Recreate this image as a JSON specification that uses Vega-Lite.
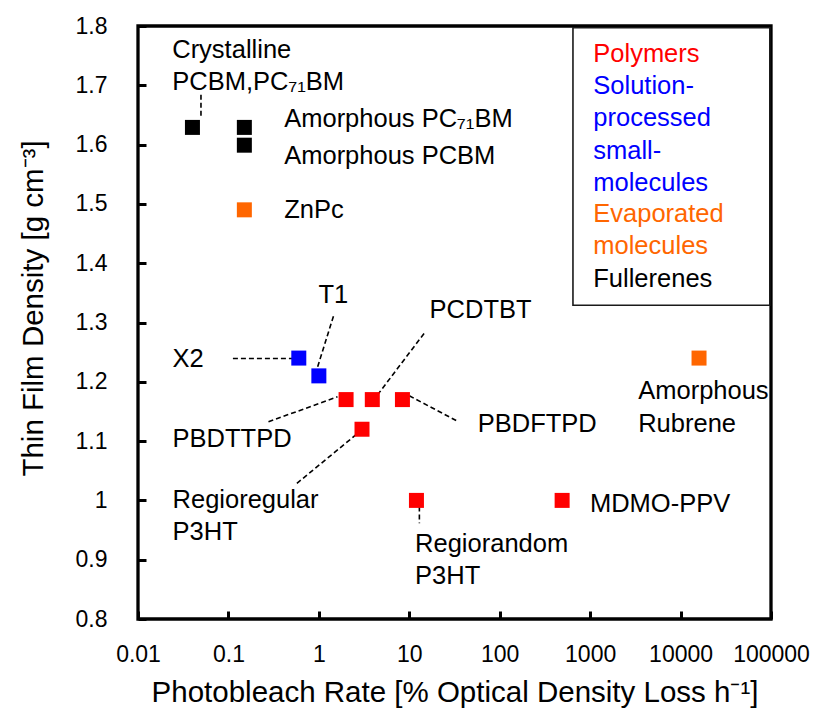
{
  "$schema": "https://vega.github.io/schema/vega-lite/v6.json",
  "width": 633,
  "height": 593,
  "autosize": {"type": "none"},
  "padding": {"left": 138, "top": 26, "right": 44, "bottom": 89},
  "background": "white",
  "config": {
    "view": {"stroke": "black", "strokeWidth": 3.3},
    "font": "Liberation Sans",
    "text": {"font": "Liberation Sans"}
  },
  "datasets": {
    "points": [
      {"name": "Crystalline PCBM,PC71BM", "x": 0.04, "y": 1.629, "cat": "Fullerenes"},
      {"name": "Amorphous PC71BM", "x": 0.15, "y": 1.629, "cat": "Fullerenes"},
      {"name": "Amorphous PCBM", "x": 0.15, "y": 1.599, "cat": "Fullerenes"},
      {"name": "ZnPc", "x": 0.15, "y": 1.49, "cat": "Evaporated molecules"},
      {"name": "X2", "x": 0.6, "y": 1.24, "cat": "Solution-processed small-molecules"},
      {"name": "T1", "x": 1, "y": 1.21, "cat": "Solution-processed small-molecules"},
      {"name": "PBDTTPD", "x": 2, "y": 1.17, "cat": "Polymers"},
      {"name": "PCDTBT", "x": 3.9, "y": 1.17, "cat": "Polymers"},
      {"name": "PBDFTPD", "x": 8.4, "y": 1.17, "cat": "Polymers"},
      {"name": "Regioregular P3HT", "x": 3, "y": 1.12, "cat": "Polymers"},
      {"name": "Regiorandom P3HT", "x": 12, "y": 1.0, "cat": "Polymers"},
      {"name": "MDMO-PPV", "x": 490, "y": 1.0, "cat": "Polymers"},
      {"name": "Amorphous Rubrene", "x": 16000, "y": 1.24, "cat": "Evaporated molecules"}
    ],
    "labels": [
      {"text": "Crystalline\nPCBM,PC₇₁BM", "x": 0.0239, "y": 1.7467},
      {"text": "Amorphous PC₇₁BM", "x": 0.4137, "y": 1.6293},
      {"text": "Amorphous PCBM", "x": 0.4137, "y": 1.5681},
      {"text": "ZnPc", "x": 0.4137, "y": 1.4754},
      {"text": "T1", "x": 0.99, "y": 1.3321},
      {"text": "X2", "x": 0.0241, "y": 1.2242},
      {"text": "PCDTBT", "x": 16.76, "y": 1.307},
      {"text": "PBDTTPD", "x": 0.0241, "y": 1.0904},
      {"text": "Regioregular\nP3HT", "x": 0.0241, "y": 0.9876},
      {"text": "Regiorandom\nP3HT", "x": 11.59, "y": 0.9134},
      {"text": "PBDFTPD", "x": 57.1, "y": 1.1157},
      {"text": "MDMO-PPV", "x": 995, "y": 0.9809},
      {"text": "Amorphous\nRubrene", "x": 3400, "y": 1.1703}
    ],
    "leaders": [
      {"x": 0.0497, "y": 1.684, "x2": 0.0497, "y2": 1.644},
      {"x": 1.45, "y": 1.3107, "x2": 0.95, "y2": 1.2209},
      {"x": 0.1121, "y": 1.2394, "x2": 0.595, "y2": 1.2394},
      {"x": 14.57, "y": 1.2815, "x2": 4.44, "y2": 1.1776},
      {"x": 0.2773, "y": 1.1326, "x2": 1.606, "y2": 1.1747},
      {"x": 0.5715, "y": 1.0287, "x2": 3.39, "y2": 1.1258},
      {"x": 12.93, "y": 1.0034, "x2": 12.93, "y2": 0.9613},
      {"x": 10.0, "y": 1.1764, "x2": 34.0, "y2": 1.1337}
    ],
    "legend": [
      {"cat": "Polymers", "text": "Polymers", "x": 1083, "y": 1.7393},
      {"cat": "Solution-processed small-molecules", "text": "Solution-\nprocessed\nsmall-\nmolecules", "x": 1083, "y": 1.6849},
      {"cat": "Evaporated molecules", "text": "Evaporated\nmolecules", "x": 1083, "y": 1.4697},
      {"cat": "Fullerenes", "text": "Fullerenes", "x": 1083, "y": 1.3601}
    ],
    "box": [
      {"x": 645.6, "x2": 97000, "y": 1.797, "y2": 1.329}
    ]
  },
  "encoding": {
    "x": {
      "field": "x",
      "type": "quantitative",
      "scale": {"type": "log", "domain": [0.01, 100000], "nice": false},
      "axis": {
        "values": [0.01, 0.1, 1, 10, 100, 1000, 10000, 100000],
        "format": "~g",
        "title": "Photobleach Rate [% Optical Density Loss h⁻¹]",
        "grid": false,
        "domain": false,
        "offset": -8,
        "ticks": true,
        "tickOpacity": 1,
        "tickColor": "#000000",
        "tickWidth": 3,
        "tickSize": 8,
        "zindex": 2,
        "labelFont": "Liberation Sans",
        "labelFontSize": 23,
        "labelColor": "black",
        "labelPadding": 24.5,
        "labelFlush": false,
        "labelOverlap": false,
        "labelBound": false,
        "titleFont": "Liberation Sans",
        "titleFontSize": 29.5,
        "titleFontWeight": "normal",
        "titleColor": "black",
        "titlePadding": 12
      }
    },
    "y": {
      "field": "y",
      "type": "quantitative",
      "scale": {"domain": [0.8, 1.8], "nice": false, "zero": false},
      "axis": {
        "values": [0.8, 0.9, 1, 1.1, 1.2, 1.3, 1.4, 1.5, 1.6, 1.7, 1.8],
        "format": "~g",
        "title": "Thin Film Density [g cm⁻³]",
        "grid": false,
        "domain": false,
        "offset": -8,
        "ticks": true,
        "tickOpacity": 1,
        "tickColor": "#000000",
        "tickWidth": 3,
        "tickSize": 8,
        "zindex": 2,
        "labelFont": "Liberation Sans",
        "labelFontSize": 23,
        "labelColor": "black",
        "labelPadding": 31,
        "labelFlush": false,
        "labelOverlap": false,
        "labelBound": false,
        "titleFont": "Liberation Sans",
        "titleFontSize": 29.5,
        "titleFontWeight": "normal",
        "titleColor": "black",
        "titlePadding": 27,
        "titleY": 282
      }
    }
  },
  "layer": [
    {
      "data": {"name": "box"},
      "mark": {"type": "rect", "fill": "transparent", "stroke": "#1a1a1a", "strokeWidth": 1.6},
      "encoding": {"x2": {"field": "x2"}, "y2": {"field": "y2"}}
    },
    {
      "data": {"name": "leaders"},
      "mark": {"type": "rule", "color": "black", "strokeWidth": 1.6, "strokeDash": [5, 3]},
      "encoding": {"x2": {"field": "x2"}, "y2": {"field": "y2"}}
    },
    {
      "data": {"name": "points"},
      "mark": {"type": "square", "size": 225, "opacity": 1, "filled": true},
      "encoding": {
        "color": {
          "field": "cat",
          "type": "nominal",
          "scale": {
            "domain": ["Polymers", "Solution-processed small-molecules", "Evaporated molecules", "Fullerenes"],
            "range": ["#FF0000", "#0000FF", "#FF6600", "#000000"]
          },
          "legend": null
        }
      }
    },
    {
      "data": {"name": "labels"},
      "mark": {"type": "text", "align": "left", "baseline": "alphabetic", "font": "Liberation Sans", "fontSize": 25.5, "lineHeight": 32.5, "lineBreak": "\n", "color": "black"},
      "encoding": {"text": {"field": "text", "type": "nominal"}}
    },
    {
      "data": {"name": "legend"},
      "mark": {"type": "text", "align": "left", "baseline": "alphabetic", "font": "Liberation Sans", "fontSize": 25.5, "lineHeight": 32.2, "lineBreak": "\n"},
      "encoding": {
        "text": {"field": "text", "type": "nominal"},
        "color": {
          "field": "cat",
          "type": "nominal",
          "scale": {
            "domain": ["Polymers", "Solution-processed small-molecules", "Evaporated molecules", "Fullerenes"],
            "range": ["#FF0000", "#0000FF", "#FF6600", "#000000"]
          },
          "legend": null
        }
      }
    }
  ]
}
